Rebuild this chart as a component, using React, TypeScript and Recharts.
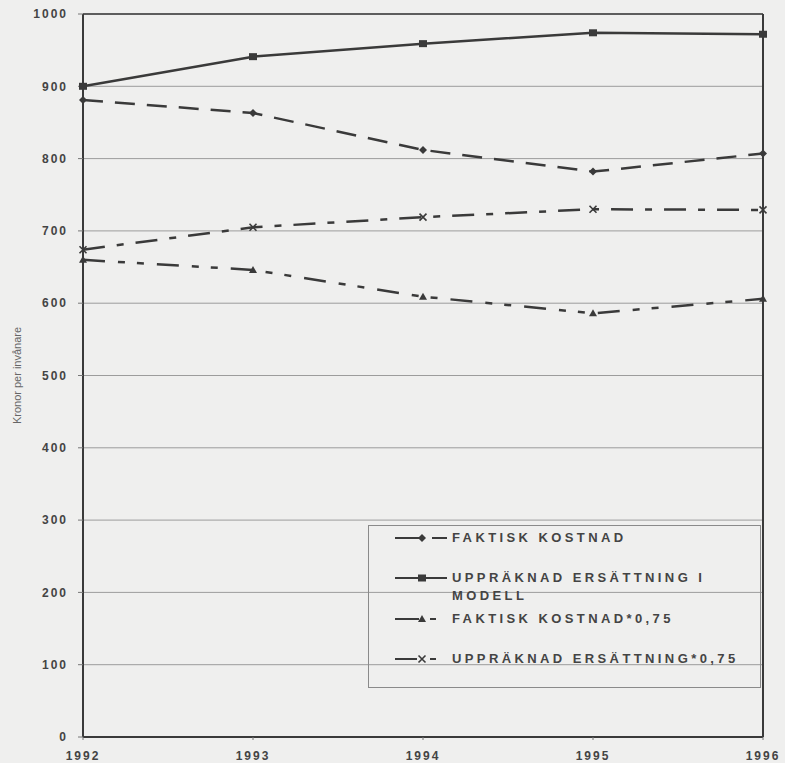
import React from "react";
import {
  CartesianGrid,
  Legend,
  Line,
  LineChart,
  ReferenceLine,
  XAxis,
  YAxis,
} from "recharts";

// values (kronor per invånare)
const years = ["1992", "1993", "1994", "1995", "1996"];
const faktiskKostnad = [881, 863, 812, 782, 807];
const uppraknadModell = [900, 941, 959, 974, 972];
const faktiskKostnad075 = [660, 646, 609, 586, 606];
const uppraknad075 = [674, 705, 719, 730, 729];
const yTicks = [0, 100, 200, 300, 400, 500, 600, 700, 800, 900, 1000];

const INK = "#3a3a3a";
const BG = "#efefee";
const FONT = "'Liberation Sans', Arial, sans-serif";

const chartData = years.map((year, i) => ({
  year,
  faktisk: faktiskKostnad[i],
  modell: uppraknadModell[i],
  faktisk075: faktiskKostnad075[i],
  uppr075: uppraknad075[i],
}));

type Marker = "diamond" | "square" | "triangle" | "cross";

const drawMarker = (kind: Marker, cx: number, cy: number, key?: string) => {
  switch (kind) {
    case "diamond":
      return (
        <path
          key={key}
          d={`M${cx},${cy - 4}L${cx + 4},${cy}L${cx},${cy + 4}L${cx - 4},${cy}Z`}
          fill={INK}
        />
      );
    case "square":
      return <rect key={key} x={cx - 4} y={cy - 3.5} width={8} height={7} fill={INK} />;
    case "triangle":
      return (
        <path
          key={key}
          d={`M${cx},${cy - 4}L${cx + 4},${cy + 3}L${cx - 4},${cy + 3}Z`}
          fill={INK}
        />
      );
    default:
      return (
        <path
          key={key}
          d={`M${cx - 3.5},${cy - 3.5}L${cx + 3.5},${cy + 3.5}M${cx + 3.5},${cy - 3.5}L${cx - 3.5},${cy + 3.5}`}
          stroke={INK}
          strokeWidth={1.6}
          fill="none"
        />
      );
  }
};

const makeDot = (kind: Marker) => (props: any) => {
  const { cx, cy, index } = props;
  if (cx == null || cy == null) return <g key={index} />;
  return drawMarker(kind, cx, cy, `${kind}-${index}`);
};

const series = [
  {
    key: "faktisk",
    name: "FAKTISK KOSTNAD",
    marker: "diamond" as Marker,
    dash: "20 12",
    legendDash: "28 9 15 0",
  },
  {
    key: "modell",
    name: "UPPRÄKNAD ERSÄTTNING I\nMODELL",
    marker: "square" as Marker,
    dash: undefined,
    legendDash: undefined,
  },
  {
    key: "faktisk075",
    name: "FAKTISK KOSTNAD*0,75",
    marker: "triangle" as Marker,
    dash: "22 13 7 12 7 13",
    legendDash: "24 11 6 20",
  },
  {
    key: "uppr075",
    name: "UPPRÄKNAD ERSÄTTNING*0,75",
    marker: "cross" as Marker,
    dash: "22 12 7 12",
    legendDash: "22 13 6 20",
  },
];

const rowTops = [3, 43, 84, 124];

const LegendBox = () => (
  <div
    style={{
      position: "relative",
      width: 393,
      height: 163,
      border: "1px solid #8a8a8a",
      boxSizing: "border-box",
      fontFamily: FONT,
      fontWeight: "bold",
      fontSize: 13,
      letterSpacing: 3.4,
      color: "#444",
      lineHeight: "18px",
    }}
  >
    {series.map((s, i) => (
      <div key={s.key} style={{ position: "absolute", top: rowTops[i], left: 0 }}>
        <svg
          width={54}
          height={18}
          style={{ position: "absolute", left: 26, top: 0 }}
        >
          <line
            x1={0}
            y1={9}
            x2={52}
            y2={9}
            stroke={INK}
            strokeWidth={2}
            strokeDasharray={s.legendDash}
          />
          {drawMarker(s.marker, 27, 9)}
        </svg>
        <div style={{ position: "absolute", left: 83, top: 0, whiteSpace: "pre" }}>
          {s.name}
        </div>
      </div>
    ))}
  </div>
);

export default function App() {
  return (
    <div
      style={{
        position: "absolute",
        left: 0,
        top: 0,
        width: 785,
        height: 763,
        background: BG,
      }}
    >
      <LineChart
        width={785}
        height={763}
        data={chartData}
        margin={{ top: 14, right: 22, bottom: 6, left: 8 }}
      >
        <CartesianGrid vertical={false} stroke="#9c9c9c" strokeWidth={1} />
        <XAxis
          dataKey="year"
          padding={{ left: 0, right: 0 }}
          height={20}
          axisLine={{ stroke: INK, strokeWidth: 2 }}
          tickLine={{ stroke: "#777" }}
          tickSize={3}
          tickMargin={11}
          tick={{
            fill: "#444",
            fontSize: 12,
            fontFamily: FONT,
            fontWeight: "bold",
            letterSpacing: 2,
          }}
        />
        <YAxis
          domain={[0, 1000]}
          ticks={yTicks}
          interval={0}
          width={75}
          axisLine={{ stroke: INK, strokeWidth: 2 }}
          tickLine={{ stroke: "#777" }}
          tickSize={5}
          tickMargin={10}
          tick={{
            fill: "#444",
            fontSize: 12,
            fontFamily: FONT,
            fontWeight: "bold",
            letterSpacing: 2,
          }}
          label={{
            value: "Kronor per invånare",
            angle: -90,
            position: "insideLeft",
            offset: 9,
            style: {
              fill: "#666",
              fontSize: 11,
              fontFamily: "'Liberation Sans Narrow', 'Arial Narrow', 'Liberation Sans', sans-serif",
              textAnchor: "middle",
            },
          }}
        />
        <ReferenceLine y={1000} stroke={INK} strokeWidth={1.5} />
        <ReferenceLine x="1996" stroke={INK} strokeWidth={2} />
        {series.map((s) => (
          <Line
            key={s.key}
            type="linear"
            dataKey={s.key}
            name={s.name}
            stroke={INK}
            strokeWidth={2.5}
            strokeDasharray={s.dash}
            dot={makeDot(s.marker)}
            activeDot={false}
            isAnimationActive={false}
          />
        ))}
        <Legend
          layout="vertical"
          align="center"
          verticalAlign="middle"
          content={() => <LegendBox />}
          wrapperStyle={{ left: 368, top: 525, width: 393, height: 163 }}
        />
      </LineChart>
    </div>
  );
}
